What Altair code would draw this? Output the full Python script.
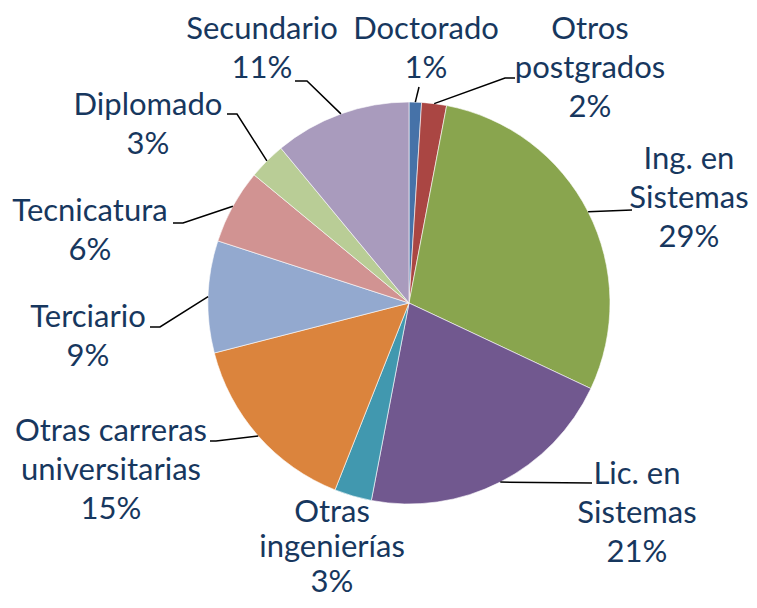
import altair as alt
import numpy as np
import pandas as pd

# ---- data ----
categories = ["Doctorado", "Otros postgrados", "Ing. en Sistemas", "Lic. en Sistemas",
              "Otras ingenierías", "Otras carreras universitarias", "Terciario",
              "Tecnicatura", "Diplomado", "Secundario"]
values = [1, 2, 29, 21, 3, 15, 9, 6, 3, 11]
display_names = ["Doctorado", "Otros\npostgrados", "Ing. en\nSistemas", "Lic. en\nSistemas",
                 "Otras\ningenierías", "Otras carreras\nuniversitarias", "Terciario",
                 "Tecnicatura", "Diplomado", "Secundario"]
colors = ["#4672A8", "#AA4643", "#89A54E", "#71588F", "#4198AF", "#DB843D",
          "#93A9CF", "#D19392", "#B9CD96", "#A99BBD"]

# ---- layout (pixel positions of labels / leader line elbows) ----
W, H = 741, 592
CX, CY, R = 401, 295, 201
label_pos = [(418, 31), (582, 31), (681, 161), (629, 476), (324, 514),
             (103, 433), (80, 319), (82, 213), (140, 107), (254, 31)]
leader_pts = [
    [(411, 79)],
    [(497, 70), (507, 70)],
    [(624, 202)],
    [(584, 475)],
    [],
    [(208, 433), (202, 433)],
    [(152, 319), (142, 319)],
    [(175, 215), (165, 215)],
    [(229, 106), (219, 106)],
    [(299, 73), (287, 73)],
]
TIGHT = "Otras ingenierías"   # bottom label, set with tighter line spacing to fit

df = pd.DataFrame({"cat": categories, "value": values, "idx": range(len(values))})

total = float(sum(values))
cum = np.cumsum(values)
mid = (cum - np.array(values) / 2.0) / total * 2 * np.pi

labels = pd.DataFrame({
    "cat": categories,
    "label": [f"{n}\n{v}%" for n, v in zip(display_names, values)],
    "lx": [p[0] for p in label_pos],
    "ly": [p[1] for p in label_pos],
})

rows = []
for i, c in enumerate(categories):
    if not leader_pts[i]:
        continue
    sx = CX + R * np.sin(mid[i])
    sy = CY - R * np.cos(mid[i])
    rows.append({"cat": c, "ord": 0, "x": sx, "y": sy})
    for k, (px, py) in enumerate(leader_pts[i]):
        rows.append({"cat": c, "ord": k + 1, "x": px, "y": py})
leaders = pd.DataFrame(rows)

arcs = alt.Chart(df).mark_arc(radius=R, stroke="white", strokeWidth=0.6).encode(
    theta=alt.Theta("value:Q", stack=True),
    color=alt.Color("cat:N", scale=alt.Scale(domain=categories, range=colors), legend=None),
    order=alt.Order("idx:Q"),
    x=alt.value(CX),
    y=alt.value(CY),
)

lines = alt.Chart(leaders).mark_line(color="black", strokeWidth=1.5).encode(
    x=alt.X("x:Q", scale=None, axis=None),
    y=alt.Y("y:Q", scale=None, axis=None),
    detail="cat:N",
    order="ord:Q",
)

text_enc = dict(
    x=alt.X("lx:Q", scale=None, axis=None),
    y=alt.Y("ly:Q", scale=None, axis=None),
    text="label:N",
)
text_style = dict(font="Lato", fontSize=31, lineBreak="\n",
                  color="#17375E", align="center", baseline="alphabetic")

texts = alt.Chart(labels[labels.cat != TIGHT]).mark_text(
    lineHeight=39, **text_style).encode(**text_enc)
texts_tight = alt.Chart(labels[labels.cat == TIGHT]).mark_text(
    lineHeight=35, **text_style).encode(**text_enc)

chart = alt.layer(arcs, lines, texts, texts_tight).properties(
    width=W, height=H, padding=0, autosize=alt.AutoSizeParams(type="none")
).configure_view(stroke=None)

chart.save("out.html", embed_options={"renderer": "svg", "actions": False})
